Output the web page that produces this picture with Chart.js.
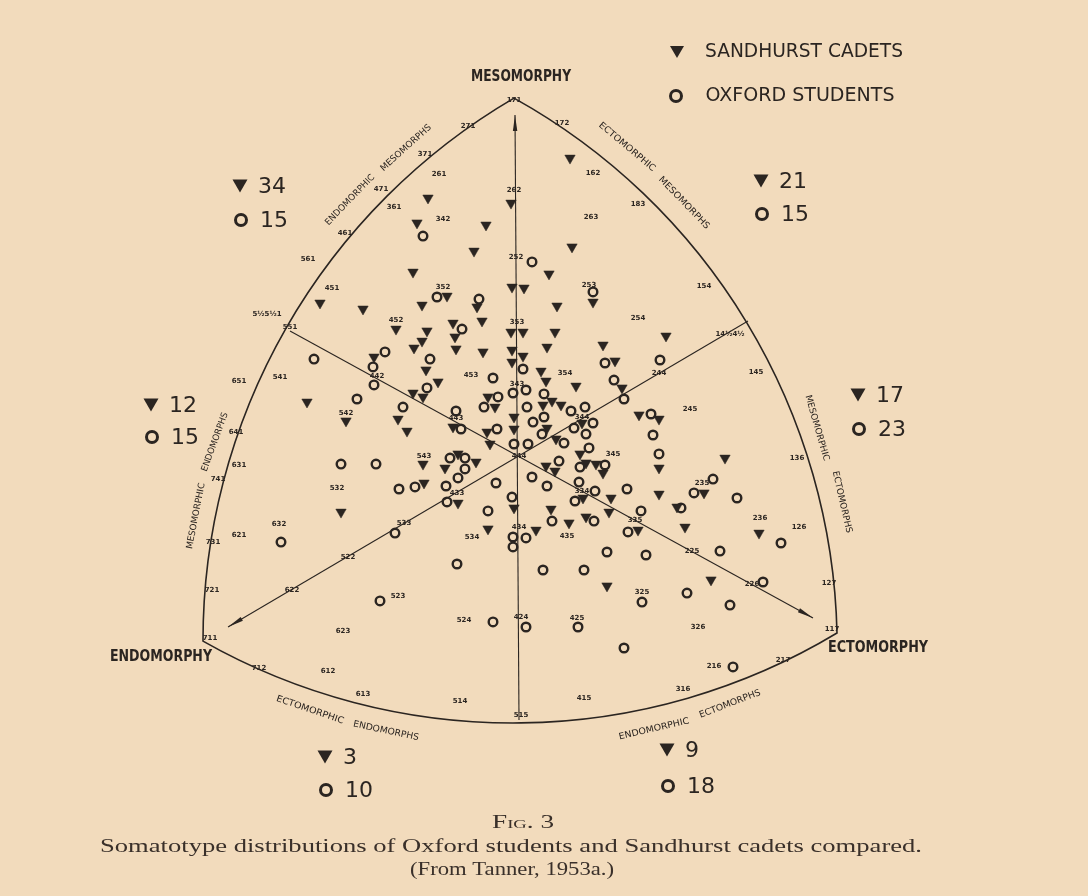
<!DOCTYPE html>
<html>
<head>
<meta charset="utf-8">
<title>Somatotype distributions</title>
<script src="https://cdn.jsdelivr.net/npm/chart.js@4.4.1/dist/chart.umd.min.js"></script>
<style>
  html, body { margin: 0; padding: 0; background: #f2dbbc; }
  canvas { display: block; }
</style>
</head>
<body>
<canvas id="chart" width="1088" height="896"></canvas>
<script>
// somatochart coordinates: x ~ ectomorphy - endomorphy, y ~ 2*mesomorphy - endo - ecto
// Sandhurst cadets (filled triangles)
const cadetsX = [
  -3.94, -4.20, -3.42, -3.52, -1.78, -2.00, -0.62, -0.86, -2.08, -0.12,
  -1.40, -0.10, -1.90, 1.06, 1.10, 0.64, 0.14, 1.52, 0.80, -3.08,
  -0.80, -2.42, -1.28, -1.80, -0.70, -0.12, -1.90, -2.06, -1.24, -1.22,
  -0.68, -0.10, -2.86, -0.10, -1.82, -1.58, -2.08, -1.88, -0.58, -0.44,
  -2.38, -2.20, -0.06, -1.28, -0.60, -0.06, -0.54, -1.18, -0.82, -1.88,
  -1.44, -1.86, -1.18, -0.06, 0.12, 0.76, 2.98, 0.60, 1.72, 1.96,
  0.12, 0.48, 0.58, 2.10, 1.18, 0.70, 0.88, 0.52, 1.30, 0.60,
  0.78, 2.44, 2.84, 1.26, 1.38, 1.58, 1.72, 0.58, 0.76, 2.84,
  1.88, 1.32, 2.84, 0.68, 3.20, 1.84, 4.16, 3.74, 1.04, 1.38,
  2.42, 0.38, 1.80, -0.58, 3.36, 4.84, 3.88
];
const cadetsY = [
  5.10, 1.80, 1.17, -1.87, 8.60, 7.77, 7.70, 6.83, 6.13, 8.43,
  5.33, 5.63, 5.03, 9.93, 6.97, 6.07, 5.60, 5.13, 5.00, 4.90,
  4.97, 4.23, 4.43, 4.17, 4.50, 4.13, 3.83, 3.60, 3.97, 3.57,
  3.47, 3.53, 3.30, 3.13, 2.87, 2.47, 2.10, 1.97, 1.97, 1.63,
  1.23, 0.83, 1.30, 0.97, 0.80, 0.90, 0.40, 0.07, -0.20, -0.27,
  -0.40, -0.90, -1.57, -1.73, 4.13, 4.13, 4.00, 3.63, 3.70, 3.17,
  3.33, 2.83, 2.50, 2.27, 2.33, 1.83, 1.70, 1.70, 1.10, 0.93,
  0.57, 1.37, 1.23, 0.07, -0.23, -0.27, -0.57, -0.33, -0.50, -0.40,
  -1.40, -1.40, -1.27, -1.77, -1.70, -1.87, -0.07, -1.23, -2.23, -2.03,
  -2.47, -2.47, -4.33, -2.43, -2.37, -2.57, -4.13
];

// Oxford students (open circles)
const oxfordX = [
  -1.88, -1.60, -0.76, 0.30, 1.52, -4.06, -3.20, -3.52, -1.10, -2.64,
  -2.88, -1.74, -0.48, -2.86, -1.80, -0.08, -0.38, -0.66, -2.28, -1.22,
  -1.12, -0.40, -0.06, -1.34, -1.04, -2.82, -1.04, -1.18, -2.36, -2.04,
  -1.42, -0.42, -0.10, -1.40, -0.58, 1.76, 2.86, 0.12, 1.94, 2.14,
  0.18, 0.54, 0.20, 1.08, 1.36, 0.54, 0.32, 1.52, 1.14, 0.50,
  1.38, 0.94, 0.22, 2.68, 2.72, 1.44, 2.84, 0.84, 1.76, 1.26,
  0.30, 0.60, 1.24, 1.56, 2.20, 1.16, 2.48, 3.92, 3.54, 4.40,
  3.28, 0.70, 1.54, 2.22, 0.18, 1.80, 2.58, 0.52, 1.34, 2.50,
  0.18, 1.22, 2.14, -2.44, -0.08, -0.08, -1.20, -2.74, -0.48, -4.72,
  4.06, 5.28, 4.92, 3.40, 4.26, 4.32
];
const oxfordY = [
  7.33, 5.30, 5.23, 6.47, 5.47, 3.23, 1.90, -0.27, 4.23, 3.47,
  2.97, 3.23, 2.60, 2.37, 2.27, 2.10, 1.97, 1.63, 1.63, 1.50,
  0.90, 0.90, 0.40, -0.07, -0.07, -0.27, -0.43, -0.73, -1.10, -1.03,
  -1.00, -0.90, -1.37, -1.53, -1.83, 3.10, 3.20, 2.90, 2.53, 1.90,
  2.20, 2.07, 1.63, 1.50, 1.63, 1.30, 1.13, 1.10, 0.93, 0.73,
  0.73, 0.43, 0.40, 1.40, 0.70, 0.27, 0.07, -0.17, -0.30, -0.37,
  -0.70, -1.00, -0.87, -1.17, -1.10, -1.50, -1.83, -0.77, -1.23, -1.40,
  -1.73, -2.17, -2.17, -2.53, -2.73, -3.20, -3.30, -3.80, -3.80, -4.87,
  -5.70, -5.70, -6.40, -2.57, -2.70, -3.03, -3.60, -4.83, -5.53, -2.87,
  -3.17, -2.90, -4.20, -4.57, -4.97, -7.03
];

// numbers per sector: upper-left, upper-right, left, right, lower-left, lower-right
const sectorCadets = [34, 21, 12, 17, 3, 9];
const sectorOxford = [15, 15, 15, 23, 10, 18];

const seriesNames = ["SANDHURST CADETS", "OXFORD STUDENTS"];
const poleNames = ["MESOMORPHY", "ENDOMORPHY", "ECTOMORPHY"];

// somatotype ratings printed on the chart, at their somatochart position
const ratingMarks = [
  ["171", -0.06, 11.87], ["271", -0.98, 11.00], ["371", -1.84, 10.07], ["261", -1.56, 9.40],
  ["471", -2.72, 8.90], ["361", -2.46, 8.30], ["342", -1.48, 7.90], ["262", -0.06, 8.87],
  ["172", 0.90, 11.10], ["162", 1.52, 9.43], ["183", 2.42, 8.40], ["263", 1.48, 7.97],
  ["252", -0.02, 6.63], ["253", 1.44, 5.70], ["461", -3.44, 7.43], ["561", -4.18, 6.57],
  ["451", -3.70, 5.60], ["352", -1.48, 5.63], ["154", 3.74, 5.67], ["5½5½1", -5.00, 4.73],
  ["551", -4.54, 4.30], ["254", 2.42, 4.60], ["14½4½", 4.26, 4.07], ["452", -2.42, 4.53],
  ["353", 0.00, 4.47], ["541", -4.74, 2.63], ["651", -5.56, 2.50], ["442", -2.80, 2.67],
  ["453", -0.92, 2.70], ["354", 0.96, 2.77], ["244", 2.84, 2.77], ["145", 4.78, 2.80],
  ["343", 0.00, 2.40], ["542", -3.42, 1.43], ["641", -5.62, 0.80], ["443", -1.22, 1.27],
  ["344", 1.30, 1.30], ["245", 3.46, 1.57], ["444", 0.04, 0.00], ["543", -1.86, 0.00],
  ["631", -5.56, -0.30], ["741", -5.98, -0.77], ["345", 1.92, 0.07], ["136", 5.60, -0.07],
  ["532", -3.60, -1.07], ["433", -1.20, -1.23], ["334", 1.30, -1.17], ["235", 3.70, -0.90],
  ["533", -2.26, -2.23], ["632", -4.76, -2.27], ["621", -5.56, -2.63], ["731", -6.08, -2.87],
  ["522", -3.38, -3.37], ["534", -0.90, -2.70], ["434", 0.04, -2.37], ["435", 1.00, -2.67],
  ["335", 2.36, -2.13], ["236", 4.86, -2.07], ["126", 5.64, -2.37], ["225", 3.50, -3.17],
  ["226", 4.70, -4.27], ["127", 6.24, -4.23], ["721", -6.10, -4.47], ["622", -4.50, -4.47],
  ["523", -2.38, -4.67], ["325", 2.50, -4.53], ["524", -1.06, -5.47], ["424", 0.08, -5.37],
  ["425", 1.20, -5.40], ["326", 3.62, -5.70], ["623", -3.48, -5.83], ["711", -6.14, -6.07],
  ["117", 6.30, -5.77], ["712", -5.16, -7.07], ["612", -3.78, -7.17], ["613", -3.08, -7.93],
  ["514", -1.14, -8.17], ["515", 0.08, -8.63], ["415", 1.34, -8.07], ["316", 3.32, -7.77],
  ["216", 3.94, -7.00], ["217", 5.32, -6.80]
];

// outline corners (171, 711, 117) and the three axes
const corners = [[-0.06, 11.93], [-6.28, -6.17], [6.40, -5.90]];
const axes = [
  [[0.04, -8.80], [-0.04, 11.37]],
  [[-4.54, 4.17], [5.92, -5.40]],
  [[4.62, 4.50], [-5.78, -5.70]]
];

const ink = "#2b2521";

function toPx(chart, p) {
  return [chart.scales.x.getPixelForValue(p[0]), chart.scales.y.getPixelForValue(p[1])];
}

function arcEdge(ctx, A, B, C, R) {
  const mx = (A[0] + B[0]) / 2, my = (A[1] + B[1]) / 2;
  const h = Math.hypot(B[0] - A[0], B[1] - A[1]) / 2;
  const d = Math.sqrt(Math.max(R * R - h * h, 0));
  let nx = -(B[1] - A[1]), ny = B[0] - A[0];
  const nl = Math.hypot(nx, ny);
  nx /= nl; ny /= nl;
  if ((C[0] - mx) * nx + (C[1] - my) * ny < 0) { nx = -nx; ny = -ny; }
  const ox = mx + nx * d, oy = my + ny * d;
  const a1 = Math.atan2(A[1] - oy, A[0] - ox);
  const a2 = Math.atan2(B[1] - oy, B[0] - ox);
  let diff = a2 - a1;
  while (diff > Math.PI) diff -= 2 * Math.PI;
  while (diff < -Math.PI) diff += 2 * Math.PI;
  ctx.arc(ox, oy, R, a1, a2, diff < 0);
}

function fitText(ctx, str, cx, cy, w, font, angle) {
  ctx.save();
  ctx.font = font;
  ctx.translate(cx, cy);
  ctx.rotate((angle || 0) * Math.PI / 180);
  const m = ctx.measureText(str).width;
  if (w) ctx.scale(w / m, 1);
  ctx.textAlign = "center";
  ctx.textBaseline = "middle";
  ctx.fillText(str, 0, 0);
  ctx.restore();
}

function triMark(ctx, x, y, w, h) {
  ctx.beginPath();
  ctx.moveTo(x - w / 2, y - h / 2);
  ctx.lineTo(x + w / 2, y - h / 2);
  ctx.lineTo(x, y + h / 2);
  ctx.closePath();
  ctx.fill();
}

function ringMark(ctx, x, y, r, lw) {
  ctx.beginPath();
  ctx.lineWidth = lw;
  ctx.arc(x, y, r, 0, Math.PI * 2);
  ctx.stroke();
}

const somatochart = {
  id: "somatochart",
  beforeDraw(chart) {
    const ctx = chart.ctx;
    ctx.save();
    ctx.fillStyle = "#f2dbbc";
    ctx.fillRect(0, 0, chart.width, chart.height);
    ctx.restore();
  },
  beforeDatasetsDraw(chart) {
    const ctx = chart.ctx;
    ctx.save();
    ctx.strokeStyle = ink;
    ctx.fillStyle = ink;

    // curved triangle outline
    const [T, L, Rt] = corners.map(c => toPx(chart, c));
    const R = (Math.hypot(T[0] - L[0], T[1] - L[1]) + Math.hypot(T[0] - Rt[0], T[1] - Rt[1]) +
      Math.hypot(L[0] - Rt[0], L[1] - Rt[1])) / 3;
    ctx.lineWidth = 1.6;
    ctx.beginPath();
    ctx.moveTo(T[0], T[1]);
    arcEdge(ctx, T, Rt, L, R);
    arcEdge(ctx, Rt, L, T, R);
    arcEdge(ctx, L, T, Rt, R);
    ctx.closePath();
    ctx.stroke();

    // axes with thin arrow heads
    ctx.lineWidth = 1.1;
    axes.forEach(a => {
      const p = toPx(chart, a[0]), q = toPx(chart, a[1]);
      ctx.beginPath();
      ctx.moveTo(p[0], p[1]);
      ctx.lineTo(q[0], q[1]);
      ctx.stroke();
      const ang = Math.atan2(q[1] - p[1], q[0] - p[0]);
      ctx.save();
      ctx.translate(q[0], q[1]);
      ctx.rotate(ang);
      ctx.beginPath();
      ctx.moveTo(0, 0);
      ctx.lineTo(-16, -2.2);
      ctx.lineTo(-16, 2.2);
      ctx.closePath();
      ctx.fill();
      ctx.restore();
    });

    // somatotype ratings
    ctx.font = "bold 7px 'DejaVu Sans'";
    ctx.textAlign = "center";
    ctx.textBaseline = "middle";
    ratingMarks.forEach(r => {
      const p = toPx(chart, [r[1], r[2]]);
      ctx.fillText(r[0], p[0], p[1]);
    });

    // words along the edges
    const edgeFont = "9px 'DejaVu Sans'";
    [
      ["ENDOMORPHIC", 350, 200, 67, -46], ["MESOMORPHS", 406, 148, 65, -42],
      ["ECTOMORPHIC", 627, 147, 71, 40], ["MESOMORPHS", 684, 203, 69, 46],
      ["MESOMORPHIC", 817, 428, 68, 74], ["ECTOMORPHS", 842, 502, 63, 77],
      ["MESOMORPHIC", 196, 516, 67, -79], ["ENDOMORPHS", 215, 442, 62, -70],
      ["ECTOMORPHIC", 310, 710, 71, 19], ["ENDOMORPHS", 386, 731, 67, 12],
      ["ENDOMORPHIC", 654, 729, 72, -13], ["ECTOMORPHS", 730, 704, 65, -21]
    ].forEach(w => fitText(ctx, w[0], w[1], w[2], w[3], edgeFont, w[4]));
    ctx.restore();
  },
  afterDraw(chart) {
    const ctx = chart.ctx;
    ctx.save();
    ctx.fillStyle = ink;
    ctx.strokeStyle = ink;

    // pole names
    const poleFont = "600 16px 'DejaVu Sans Condensed', 'DejaVu Sans'";
    fitText(ctx, poleNames[0], 521, 77, 100, poleFont);
    fitText(ctx, poleNames[1], 161, 657, 102, poleFont);
    fitText(ctx, poleNames[2], 878, 648, 100, poleFont);

    // legend
    triMark(ctx, 677, 52, 14, 12);
    ringMark(ctx, 676, 96, 5.5, 3);
    const legFont = "20px 'DejaVu Sans'";
    fitText(ctx, seriesNames[0], 804, 52, 198, legFont);
    fitText(ctx, seriesNames[1], 800, 96, 189, legFont);

    // counts per sector
    const spots = [[240, 186, 220], [761, 181, 214], [151, 405, 437], [858, 395, 429], [325, 757, 790], [667, 750, 786]];
    ctx.font = "22px 'DejaVu Sans'";
    ctx.textAlign = "left";
    ctx.textBaseline = "middle";
    spots.forEach((s, i) => {
      triMark(ctx, s[0], s[1], 15, 13);
      ringMark(ctx, s[0] + 1, s[2], 5.5, 3);
      ctx.fillText(String(sectorCadets[i]), s[0] + 18, s[1] + 1);
      ctx.fillText(String(sectorOxford[i]), s[0] + 20, s[2] + 1);
    });

    // caption
    ctx.fillStyle = "#3a302a";
    fitText(ctx, "Fig. 3", 523, 823, 62, "small-caps 19px 'Liberation Serif'");
    fitText(ctx, "Somatotype distributions of Oxford students and Sandhurst cadets compared.", 511, 847, 822, "19px 'Liberation Serif'");
    fitText(ctx, "(From Tanner, 1953a.)", 512, 870, 204, "19px 'Liberation Serif'");
    ctx.restore();
  }
};

new Chart(document.getElementById("chart"), {
  type: "scatter",
  data: {
    datasets: [
      {
        label: seriesNames[0],
        data: cadetsX.map((x, i) => ({ x: x, y: cadetsY[i] })),
        pointStyle: "triangle",
        rotation: 180,
        radius: 6,
        backgroundColor: ink,
        borderColor: ink,
        borderWidth: 0.5
      },
      {
        label: seriesNames[1],
        data: oxfordX.map((x, i) => ({ x: x, y: oxfordY[i] })),
        pointStyle: "circle",
        radius: 4.3,
        backgroundColor: "rgba(0,0,0,0)",
        borderColor: ink,
        borderWidth: 2.4
      }
    ]
  },
  options: {
    responsive: false,
    devicePixelRatio: 1,
    animation: false,
    events: [],
    layout: { autoPadding: false, padding: { left: 17, right: 21, top: 6, bottom: 20 } },
    plugins: { legend: { display: false }, tooltip: { enabled: false } },
    scales: {
      x: { type: "linear", min: -10, max: 11, display: false },
      y: { type: "linear", min: -14, max: 15, display: false }
    }
  },
  plugins: [somatochart]
});
</script>
</body>
</html>
